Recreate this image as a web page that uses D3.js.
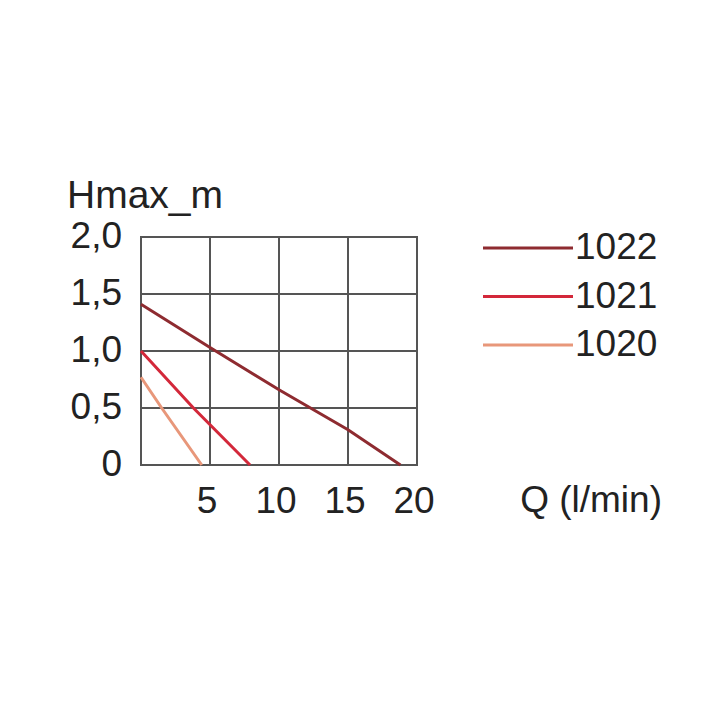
<!DOCTYPE html>
<html>
<head>
<meta charset="utf-8">
<script src="https://cdn.jsdelivr.net/npm/d3@7"></script>
<style>
  body { margin: 0; background: #fff; }
  text { font-family: "Liberation Sans", Arial, sans-serif; fill: #222; }
</style>
</head>
<body>
<div id="chart"></div>
<script>
// pump curves
const series = ["1022", "1021", "1020"];
const q1022 = [0, 5, 10, 15, 18.8];
const h1022 = [1.41, 1.03, 0.66, 0.31, 0];
const q1021 = [0, 3.8, 7.9];
const h1021 = [1.0, 0.5, 0];
const q1020 = [0, 1.5, 4.4];
const h1020 = [0.77, 0.5, 0];
const xTicks = [5, 10, 15, 20];
const yTicks = [0, 0.5, 1.0, 1.5, 2.0];
const yTickLabels = ["0", "0,5", "1,0", "1,5", "2,0"];

const colors = {"1022": "#8e2b30", "1021": "#d3283a", "1020": "#e8977a"};
const curves = {
  "1022": d3.zip(q1022, h1022),
  "1021": d3.zip(q1021, h1021),
  "1020": d3.zip(q1020, h1020)
};

const width = 720, height = 720;
const plot = {left: 141, right: 417, top: 237, bottom: 465};
const fontSize = 37;

const svg = d3.select("#chart").append("svg")
  .attr("width", width)
  .attr("height", height);

const x = d3.scaleLinear().domain([0, 20]).range([plot.left, plot.right]);
const y = d3.scaleLinear().domain([0, 2]).range([plot.bottom, plot.top]);

// grid
const grid = svg.append("g")
  .attr("stroke", "#555")
  .attr("stroke-width", 2);

grid.selectAll("line.v")
  .data(xTicks.slice(0, -1))
  .enter().append("line")
    .attr("x1", d => x(d)).attr("x2", d => x(d))
    .attr("y1", plot.top).attr("y2", plot.bottom);

grid.selectAll("line.h")
  .data(yTicks.slice(1, -1))
  .enter().append("line")
    .attr("x1", plot.left).attr("x2", plot.right)
    .attr("y1", d => y(d)).attr("y2", d => y(d));

grid.append("rect")
  .attr("x", plot.left).attr("y", plot.top)
  .attr("width", plot.right - plot.left)
  .attr("height", plot.bottom - plot.top)
  .attr("fill", "none");

// curves
const line = d3.line().x(d => x(d[0])).y(d => y(d[1]));

svg.selectAll("path.curve")
  .data(series)
  .enter().append("path")
    .attr("class", "curve")
    .attr("d", d => line(curves[d]))
    .attr("fill", "none")
    .attr("stroke", d => colors[d])
    .attr("stroke-width", 3);

// y labels
svg.selectAll("text.ylab")
  .data(yTicks)
  .enter().append("text")
    .attr("x", 122)
    .attr("y", d => y(d) - 2)
    .attr("dy", "0.35em")
    .attr("text-anchor", "end")
    .style("font-size", fontSize + "px")
    .text((d, i) => yTickLabels[i]);

// x labels
svg.selectAll("text.xlab")
  .data(xTicks)
  .enter().append("text")
    .attr("x", d => x(d) - 3)
    .attr("y", 513)
    .attr("text-anchor", "middle")
    .style("font-size", fontSize + "px")
    .text(d => d);

// axis titles
svg.append("text")
  .attr("x", 67).attr("y", 208)
  .style("font-size", "39px")
  .text("Hmax_m");

svg.append("text")
  .attr("x", 662).attr("y", 512)
  .attr("text-anchor", "end")
  .style("font-size", fontSize + "px")
  .text("Q (l/min)");

// legend
const legend = svg.selectAll("g.legend")
  .data(series)
  .enter().append("g")
    .attr("transform", (d, i) => "translate(0," + (259 + i * 48.5) + ")");

legend.append("line")
  .attr("x1", 483).attr("x2", 573)
  .attr("y1", -11).attr("y2", -11)
  .attr("stroke", d => colors[d])
  .attr("stroke-width", 3);

legend.append("text")
  .attr("x", 575)
  .style("font-size", fontSize + "px")
  .text(d => d);
</script>
</body>
</html>
